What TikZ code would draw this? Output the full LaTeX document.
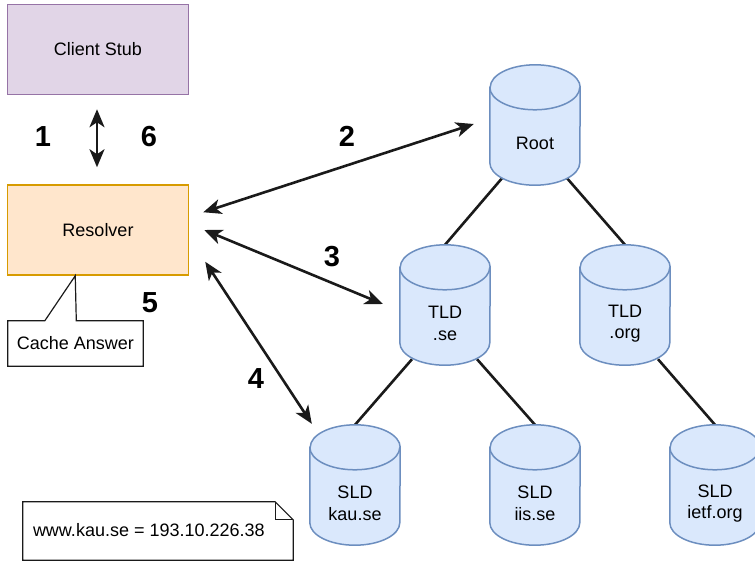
\documentclass[tikz,border=0pt]{standalone}
\usepackage{fontspec}
\setmainfont{Liberation Sans}
\usetikzlibrary{arrows.meta,calc}

\definecolor{stubfill}{HTML}{E1D5E7}
\definecolor{stubline}{HTML}{9673A6}
\definecolor{resfill}{HTML}{FFE6CC}
\definecolor{resline}{HTML}{D79B00}
\definecolor{dbfill}{HTML}{DAE8FC}
\definecolor{dbline}{HTML}{6C8EBF}
\definecolor{ink}{HTML}{1A1A1A}

% database cylinder drawn inside the box of node #1
\newcommand\dbdraw[1]{%
  \path[dbshape] ($(#1.north west)+(0,22.5)$) -- ($(#1.south west)+(0,-22.5)$)
    arc[start angle=180,end angle=360,x radius=45pt,y radius=22.5pt]
    -- ($(#1.north east)+(0,22.5)$)
    arc[start angle=0,end angle=180,x radius=45pt,y radius=22.5pt] -- cycle;
  \draw[dbshape,fill=none] ($(#1.north west)+(0,22.5)$)
    arc[start angle=180,end angle=360,x radius=45pt,y radius=22.5pt];}

\begin{document}
\begin{tikzpicture}[x=1pt,y=-1pt,
  every node/.style={font=\fontsize{18}{21.6}\selectfont, inner sep=0pt},
  box/.style={rectangle, line width=1.5pt, minimum width=181pt, minimum height=90pt},
  stub/.style={box, draw=stubline, fill=stubfill},
  res/.style={box, draw=resline, fill=resfill},
  dbbox/.style={rectangle, minimum width=90pt, minimum height=120pt},
  dbshape/.style={draw=dbline, fill=dbfill, line width=1.5pt},
  dblabel/.style={align=center},
  stepnum/.style={font=\fontsize{29}{34}\selectfont\bfseries},
  link/.style={draw=ink, line width=2.6pt},
  msg/.style={draw=ink, line width=2.6pt,
    {Stealth[length=18pt,width=15pt,inset=5pt]}-{Stealth[length=18pt,width=15pt,inset=5pt]}},
  paper/.style={draw=ink, line width=1.2pt},
]
\clip (0,0) rectangle (755,562);
\useasboundingbox (0,0) rectangle (755,562);

% client side
\node[stub] (stub) at (98,49.5) {Client Stub};
\node[res] (resolver) at (98,230) {Resolver};

% name server boxes
\node[dbbox] (root)   at (535,125) {};
\node[dbbox] (tldse)  at (445,305) {};
\node[dbbox] (tldorg) at (625,305) {};
\node[dbbox] (kau)    at (355,485) {};
\node[dbbox] (iis)    at (535,485) {};
\node[dbbox] (ietf)   at (715,485) {};

% hierarchy links
\draw[link] ($(root.south)+(-33,-7)$) -- (tldse.north);
\draw[link] ($(root.south)+(32,-7)$) -- (tldorg.north);
\draw[link] ($(tldse.south)+(-33,-6)$) -- (kau.north);
\draw[link] ($(tldse.south)+(32,-6)$) -- (iis.north);
\draw[link] ($(tldorg.south)+(33,-6)$) -- (ietf.north);

% cylinders
\dbdraw{root}
\dbdraw{tldse}
\dbdraw{tldorg}
\dbdraw{kau}
\dbdraw{iis}
\dbdraw{ietf}

\node[dblabel] (root-t)   at ($(root.center)+(0,18.5)$)   {Root};
\node[dblabel] (tldse-t)  at ($(tldse.center)+(0,18.5)$)  {TLD\\.se};
\node[dblabel] (tldorg-t) at ($(tldorg.center)+(0,18.5)$) {TLD\\.org};
\node[dblabel] (kau-t)    at ($(kau.center)+(0,18.5)$)    {SLD\\kau.se};
\node[dblabel] (iis-t)    at ($(iis.center)+(0,18.5)$)    {SLD\\iis.se};
\node[dblabel] (ietf-t)   at ($(ietf.center)+(0,18.5)$)   {SLD\\ietf.org};

% query / response arrows
\coordinate (a1) at ($(stub.south)+(-1,14)$);
\coordinate (b1) at ($(resolver.north)+(-1,-17)$);
\coordinate (a2) at ($(resolver.north east)+(14,28)$);
\coordinate (b2) at ($(root.west)+(-16,-1)$);
\coordinate (a3) at ($(resolver.east)+(15,0)$);
\coordinate (b3) at ($(tldse.west)+(-17,-1)$);
\coordinate (a4) at ($(resolver.south east)+(16,-14)$);
\coordinate (b4) at ($(kau.north west)+(2,-1)$);
\draw[msg] (a1) -- (b1);
\draw[msg] (a2) -- (b2);
\draw[msg] (a3) -- (b3);
\draw[msg] (a4) -- (b4);

% step numbers
\node[stepnum] (n1) at (43,137) {1};
\node[stepnum] (n6) at (149,137) {6};
\node[stepnum] (n2) at (347,136) {2};
\node[stepnum] (n3) at (332,257) {3};
\node[stepnum] (n4) at (256,379) {4};
\node[stepnum] (n5) at (150,303) {5};

% cache callout
\node[rectangle, minimum width=135pt, minimum height=45pt] (cache) at (75.5,343.5) {Cache Answer};
\coordinate (tail) at ($(resolver.south west)+(68.5,0)$);
\draw[paper] (cache.north west) -- ($(cache.north west)+(37,0)$) -- (tail)
  -- ($(cache.north west)+(68.5,0)$) -- (cache.north east) -- (cache.south east)
  -- (cache.south west) -- cycle;

% resolved address note
\node[rectangle, minimum width=270pt, minimum height=58pt] (note) at (158,531) {};
\draw[paper, fill=white] (note.north west) -- ($(note.north east)+(-18,0)$)
  -- ($(note.north east)+(0,18)$) -- (note.south east) -- (note.south west) -- cycle;
\draw[paper] ($(note.north east)+(-18,0)$) |- ($(note.north east)+(0,18)$);
\node[anchor=west] (note-t) at ($(note.west)+(10,-1)$) {www.kau.se = 193.10.226.38};
\end{tikzpicture}
\end{document}
